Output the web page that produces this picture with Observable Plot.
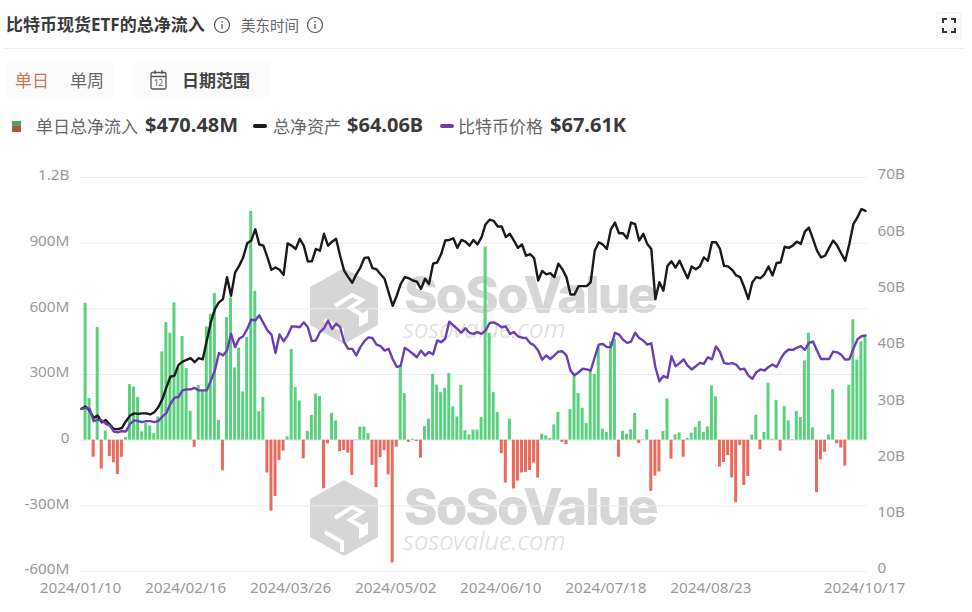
<!DOCTYPE html>
<html>
<head>
<meta charset="utf-8">
<script src="https://cdn.jsdelivr.net/npm/d3@7"></script>
<script src="https://cdn.jsdelivr.net/npm/@observablehq/plot@0.6"></script>
<style>
  html, body { margin: 0; padding: 0; background: #fff; }
  body { width: 972px; height: 612px; position: relative; overflow: hidden;
         font-family: "Noto Sans", "Noto Sans CJK SC", sans-serif; color: #333; }
  .t { position: absolute; white-space: nowrap; line-height: 1; }
  .wm { position: absolute; white-space: nowrap; line-height: 1; }
  .wm1 { color: #d6d6d6; font-family: Inter, sans-serif; font-size: 51px; font-weight: 800; letter-spacing: -2px; }
  .wm2 { color: #dcdcdc; font-size: 25.5px; font-style: italic; font-weight: 300; }
  #chart { position: absolute; left: 0; top: 160px; }
  #chart svg { background: transparent; }
</style>
</head>
<body>

<div class="t" style="left:6px;top:16px;font-size:17px;font-weight:700;color:#3a3a3a">比特币现货ETF的总净流入</div>
<svg style="position:absolute;left:213px;top:16px" width="18" height="18"><circle cx="9" cy="9" r="7.5" fill="none" stroke="#555" stroke-width="1.2"/><path d="M9 8v5M9 5v1.4" stroke="#555" stroke-width="1.3"/></svg>
<div class="t" style="left:241px;top:18px;font-size:14.5px;color:#666">美东时间</div>
<svg style="position:absolute;left:306px;top:16px" width="18" height="18"><circle cx="9" cy="9" r="7.5" fill="none" stroke="#555" stroke-width="1.2"/><path d="M9 8v5M9 5v1.4" stroke="#555" stroke-width="1.3"/></svg>
<svg style="position:absolute;left:936px;top:12px" width="26" height="27"><rect x="1" y="1" width="24" height="25" fill="#fcfcfc" stroke="#eee"/><path d="M7 11V7h4M15 7h4v4M7 16v4h4M15 20h4v-4" fill="none" stroke="#333" stroke-width="2"/></svg>
<div style="position:absolute;left:4px;top:48px;width:961px;height:1px;background:#eee"></div>

<div style="position:absolute;left:5px;top:62px;width:110px;height:35px;background:#fbfbfb"></div>
<div style="position:absolute;left:134px;top:62px;width:136px;height:35px;background:#fbfbfb"></div>
<div class="t" style="left:15px;top:72px;font-size:17px;color:#d4734f">单日</div>
<div class="t" style="left:70px;top:72px;font-size:17px;color:#666">单周</div>
<svg style="position:absolute;left:149px;top:69px" width="20" height="22"><rect x="2" y="3.5" width="15" height="16.5" rx="1.5" fill="none" stroke="#555" stroke-width="1.3"/><path d="M2 7.5h15M6 1v4M13 1v4" stroke="#555" stroke-width="1.3"/><text x="9.5" y="17" font-size="8" text-anchor="middle" fill="#555">12</text></svg>
<div class="t" style="left:182px;top:72px;font-size:17px;font-weight:700;color:#444">日期范围</div>

<div style="position:absolute;left:12px;top:121px;width:9px;height:5px;background:#4aa366"></div>
<div style="position:absolute;left:12px;top:126px;width:9px;height:6px;background:#b5533f"></div>
<div class="t" style="left:36px;top:118px;font-size:17px;color:#666">单日总净流入</div>
<div class="t" style="left:145px;top:115px;font-size:20px;font-weight:700;color:#3a3a3a">$470.48M</div>
<div style="position:absolute;left:253px;top:124px;width:14px;height:4px;border-radius:2px;background:#1a1a1a"></div>
<div class="t" style="left:273px;top:118px;font-size:17px;color:#666">总净资产</div>
<div class="t" style="left:347px;top:115px;font-size:20px;font-weight:700;color:#3a3a3a">$64.06B</div>
<div style="position:absolute;left:440px;top:124px;width:14px;height:4px;border-radius:2px;background:#6a3fb5"></div>
<div class="t" style="left:458px;top:118px;font-size:17px;color:#666">比特币价格</div>
<div class="t" style="left:550px;top:115px;font-size:20px;font-weight:700;color:#3a3a3a">$67.61K</div>

<!-- watermarks sit under the chart -->
<svg width="0" height="0" style="position:absolute">
  <symbol id="logo" viewBox="0 0 68 76">
    <path d="M34 0L68 19V57L34 76L0 57V19Z" fill="#d6d6d6"/>
    <path d="M25 38L42 27L52 32L40 40L52 47M15 52L32 62V72" fill="none" stroke="#fff" stroke-width="4"/>
    <path d="M49 47L58 42V54L49 59Z" fill="#fff"/>
  </symbol>
</svg>
<svg class="wm" style="left:310px;top:268px" width="68" height="76"><use href="#logo"/></svg>
<div class="wm wm1" style="left:404px;top:269px">SoSoValue</div>
<div class="wm wm2" style="left:403px;top:316px">sosovalue.com</div>
<svg class="wm" style="left:310px;top:480px" width="68" height="76"><use href="#logo"/></svg>
<div class="wm wm1" style="left:404px;top:481px">SoSoValue</div>
<div class="wm wm2" style="left:403px;top:528px">sosovalue.com</div>

<div id="chart"></div>

<script>
// daily net inflow, $M, 2024/01/10 .. 2024/10/17 (trading days)
const flowsM = [
  0,625,190,-78,515,-132,42,-75,-103,-157,
  -78,12,254,243,195,38,76,65,30,106,
  403,537,489,627,335,474,327,132,-33,250,
  228,517,575,670,91,-140,560,650,330,420,
  220,470,1045,680,130,195,-150,-324,-257,-93,
  -50,15,414,240,179,-85,40,113,210,200,
  -222,-17,122,88,-53,-47,-59,-161,2,60,
  60,30,-115,-217,-80,-47,-158,-561,-32,340,
  213,-10,5,-6,-82,62,96,301,252,217,
  237,304,152,106,251,43,24,46,46,103,
  882,488,217,126,-62,-196,97,-223,-187,-150,
  -147,-138,-105,-173,27,20,8,70,126,-10,
  -20,140,290,213,146,76,316,301,422,50,
  35,450,460,-78,40,27,47,122,-15,2,
  47,-234,-164,-146,40,188,-87,24,33,-78,
  8,32,58,85,35,61,248,198,-123,-102,
  -70,-172,-286,-24,-207,-166,23,114,-44,35,
  260,5,182,-50,153,88,3,131,103,362,
  489,56,-240,-90,-55,23,231,-17,-36,-119,
  251,550,366,450,470.48
];

// total net assets, $B
const aumB = [
  28.9,29.3,28.6,27.3,27.7,26.5,26.9,26.1,25.3,25.3,
  25.5,26.7,27.7,28.1,28.0,28.1,28.1,27.9,28.3,29.2,
  30.6,32.7,34.6,34.8,36.7,37.3,37.6,37.9,37.2,37.9,
  37.7,41.0,44.3,46.6,47.8,48.4,52.3,49.0,53.1,54.3,
  55.8,58.3,58.8,60.8,58.1,57.9,55.8,53.6,54.0,53.6,
  52.7,58.3,57.9,57.3,59.1,57.9,55.1,55.1,57.3,57.0,
  60.0,57.9,58.6,59.1,56.1,53.4,52.3,51.3,52.8,54.0,
  55.7,55.8,53.9,53.7,52.8,52.0,49.6,47.2,49.0,51.1,
  52.3,52.1,51.7,51.5,50.2,52.0,51.1,54.7,54.9,56.4,
  58.8,58.9,59.2,57.5,58.9,58.6,57.9,58.9,58.1,59.4,
  61.7,62.5,62.3,61.3,61.3,59.4,60.0,58.8,57.5,58.1,
  56.1,56.4,55.7,51.7,53.4,52.8,53.0,52.3,54.7,53.7,
  52.3,49.2,49.2,50.7,50.7,50.7,51.4,57.0,58.5,58.1,
  57.3,60.8,62.0,60.1,60.1,59.2,62.0,61.7,58.8,60.0,
  58.2,57.3,48.4,51.4,49.9,54.3,55.1,54.0,55.2,53.6,
  52.1,54.2,53.7,54.2,55.8,55.2,58.5,58.5,57.3,54.3,
  54.2,53.6,52.6,52.3,50.5,48.4,51.4,52.3,52.1,52.8,
  54.2,52.6,54.8,54.9,57.7,57.5,57.9,58.6,58.2,60.4,
  61.1,59.1,57.0,55.8,56.1,57.5,58.8,57.9,56.5,55.2,
  58.2,61.7,62.9,64.4,64.06
];

// bitcoin price, $K
const priceK = [
  46.6,46.9,46.6,43.1,43.5,43.3,42.3,41.8,40.1,39.9,
  40.2,40.1,42.3,43.3,43.1,42.8,43.1,43.1,42.8,43.1,
  44.4,45.4,48.0,49.8,50.0,51.9,52.2,52.2,52.6,51.9,
  51.9,51.9,54.7,57.6,62.6,61.9,63.3,68.1,64.3,66.7,
  67.4,69.5,72.2,71.9,73.4,71.2,69.1,67.9,62.6,67.9,
  66.0,67.6,70.2,70.2,70.0,71.4,70.0,66.0,66.2,68.6,
  69.7,71.9,69.5,71.0,70.0,65.7,63.8,63.8,61.9,64.3,
  66.0,67.1,66.9,65.0,64.6,63.3,63.8,60.9,58.6,59.0,
  64.1,63.3,62.4,61.4,63.3,61.9,62.9,62.2,66.2,65.7,
  66.7,71.6,70.5,69.5,68.4,69.7,68.4,68.1,68.6,68.1,
  69.1,71.2,71.4,70.8,70.0,70.2,68.1,68.6,67.4,67.0,
  66.9,65.5,64.8,63.3,60.7,61.9,60.9,61.9,63.0,63.1,
  61.9,57.6,56.2,57.1,58.1,57.9,57.6,61.4,65.0,65.2,
  64.3,64.3,68.4,67.9,66.4,65.5,65.9,68.4,66.9,66.2,
  65.0,65.4,58.6,54.5,56.0,55.5,61.7,58.8,59.7,60.8,
  59.0,57.9,58.8,59.8,59.5,61.4,60.8,64.5,62.9,59.8,
  59.5,59.7,59.3,57.9,58.1,56.2,55.2,57.1,57.9,57.6,
  58.6,59.3,58.6,60.9,62.7,63.6,63.5,64.1,64.6,63.5,
  65.5,65.9,63.3,60.9,60.9,60.9,63.0,62.8,62.1,60.7,
  60.8,63.8,66.5,67.4,67.61
];

// x tick labels and the trading day index they fall on
const dateLabels = ["2024/01/10","2024/02/16","2024/03/26","2024/05/02","2024/06/10","2024/07/18","2024/08/23","2024/10/17"];
const dateDays = [0,26,52,78,104,130,156,194];

const leftTicks = [-600,-300,0,300,600,900,1200];
const leftLabels = ["-600M","-300M","0","300M","600M","900M","1.2B"];
const rightTicks = [0,10,20,30,40,50,60,70];
const rightLabels = ["0","10B","20B","30B","40B","50B","60B","70B"];

const yMin = -600, yMax = 1200;
const aumMax = 70;      // right axis top, $B
const priceMax = 112.9; // hidden price axis top, $K

// the lines share the flow scale, so rescale them onto it
const onAum = b => yMin + b / aumMax * (yMax - yMin);
const onPrice = k => yMin + k / priceMax * (yMax - yMin);

const days = flowsM.map((v, i) => i);
const rows = days.map(i => ({day: i, flow: flowsM[i], aum: onAum(aumB[i]), price: onPrice(priceK[i])}));

const green = "#5bd07f", red = "#ea6a5e";
const axisFontSize = 15.3;

const chart = Plot.plot({
  width: 972,
  height: 440,
  marginTop: 17,
  marginBottom: 29,
  marginLeft: 79,
  marginRight: 105,
  style: {fontFamily: '"Noto Sans", "Noto Sans CJK SC", sans-serif', background: "transparent"},
  x: {type: "band", domain: days, paddingInner: 0.26, paddingOuter: 0.13, round: false, axis: null},
  y: {domain: [yMin, yMax], axis: null},
  marks: [
    Plot.ruleY(leftTicks, {stroke: "#ececec", strokeWidth: 1}),
    Plot.barY(rows.filter(d => d.flow > 0), {x: "day", y: "flow", fill: green}),
    Plot.barY(rows.filter(d => d.flow < 0), {x: "day", y: "flow", fill: red}),
    Plot.line(rows, {x: "day", y: "aum", stroke: "#1a1a1a", strokeWidth: 2.4, strokeLinejoin: "round"}),
    Plot.line(rows, {x: "day", y: "price", stroke: "#6a3fb5", strokeWidth: 2.4, strokeLinejoin: "round"}),
    Plot.axisY({anchor: "left", ticks: leftTicks, tickSize: 0, tickPadding: 10, dy: -2, label: null,
      tickFormat: v => leftLabels[leftTicks.indexOf(v)], color: "#9a9a9a", fontSize: axisFontSize}),
    Plot.axisY({anchor: "right", ticks: rightTicks.map(onAum), tickSize: 0, tickPadding: 10, dy: -3, label: null,
      tickFormat: v => rightLabels[rightTicks.map(onAum).indexOf(v)], color: "#9a9a9a", fontSize: axisFontSize}),
    Plot.axisX({ticks: dateDays, tickSize: 0, tickPadding: 11, dx: -1, label: null,
      tickFormat: v => dateLabels[dateDays.indexOf(v)], color: "#9a9a9a", fontSize: axisFontSize})
  ]
});
document.getElementById("chart").appendChild(chart);
</script>
</body>
</html>
